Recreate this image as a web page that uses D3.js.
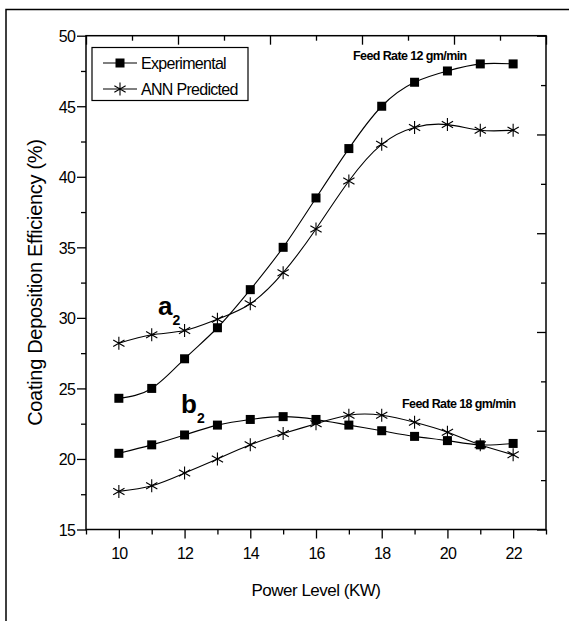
<!DOCTYPE html>
<html><head><meta charset="utf-8">
<script src="https://cdn.jsdelivr.net/npm/d3@7"></script>
<style>
html,body{margin:0;padding:0;background:#fff;}
svg{display:block;font-family:"Liberation Sans",Arial,sans-serif;}
</style></head><body>
<svg id="chart" width="569" height="621"></svg>
<script>
const powerLevels = [10,11,12,13,14,15,16,17,18,19,20,21,22];
const expA2 = [24.3,25.0,27.1,29.3,32.0,35.0,38.5,42.0,45.0,46.7,47.5,48.0,48.0];
const annA2 = [28.2,28.8,29.1,29.9,31.0,33.2,36.3,39.7,42.3,43.5,43.7,43.3,43.3];
const expB2 = [20.4,21.0,21.7,22.4,22.8,23.0,22.8,22.4,22.0,21.6,21.3,21.0,21.1];
const annB2 = [17.7,18.1,19.0,20.0,21.0,21.8,22.5,23.1,23.1,22.6,21.9,21.0,20.3];
const xTickLabels = [10,12,14,16,18,20,22];
const yTickLabels = [15,20,25,30,35,40,45,50];
const legendLabels = ["Experimental","ANN Predicted"];
const annotations = ["Feed Rate 12 gm/min","Feed Rate 18 gm/min"];

const svg = d3.select("#chart");
const L = 86, R = 546, T = 35.7, B = 529.5;
const x = d3.scaleLinear().domain([9,23]).range([L,R]);
const y = d3.scaleLinear().domain([15,50]).range([B,T]);

// outer frame (left & top visible)
svg.append("rect").attr("x",6).attr("y",9.5).attr("width",640).attr("height",700)
  .attr("fill","none").attr("stroke","#000").attr("stroke-width",1.5);

// axes box
const axW = 1.5;
svg.append("rect").attr("x",L).attr("y",T).attr("width",R-L).attr("height",B-T)
  .attr("fill","none").attr("stroke","#000").attr("stroke-width",axW);

// bottom axis
const xAxis = d3.axisBottom(x).tickValues(d3.range(9,24,1))
  .tickSize(0).tickFormat(d=> xTickLabels.includes(d)? d : "");
const gx = svg.append("g").attr("transform",`translate(0,${B})`).call(xAxis);
gx.select(".domain").remove();
gx.selectAll(".tick line").remove();
gx.selectAll(".tick").append("line").attr("y1",0)
  .attr("y2",d=> d%2===0?9:5).attr("stroke","#000").attr("stroke-width",1.3);
gx.selectAll(".tick text").attr("y",29).attr("dy",0).attr("fill","#000")
  .style("font-size","16px").style("letter-spacing","-0.8px").attr("font-family",null);

// left axis
const yAxis = d3.axisLeft(y).tickValues(d3.range(15,50.01,2.5))
  .tickSize(0).tickFormat(d=> yTickLabels.includes(d)? d : "");
const gy = svg.append("g").attr("transform",`translate(${L},0)`).call(yAxis);
gy.select(".domain").remove();
gy.selectAll(".tick line").remove();
gy.selectAll(".tick").append("line").attr("x1",0)
  .attr("x2",d=> d%5===0?-9:-5).attr("stroke","#000").attr("stroke-width",1.3);
gy.selectAll(".tick text").attr("x",-11).attr("dy","0.36em").attr("fill","#000")
  .style("font-size","16px").style("letter-spacing","-0.8px").attr("font-family",null);

// top axis (10 equal divisions, inward)
const topS = d3.scaleLinear().domain([0,10]).range([L,R]);
const gt = svg.append("g").attr("transform",`translate(0,${T})`)
  .call(d3.axisTop(topS).ticks(10).tickSize(0).tickFormat(""));
gt.select(".domain").remove();
gt.selectAll(".tick").append("line").attr("y1",0).attr("y2",d=> d%2===0?9:5)
  .attr("stroke","#000").attr("stroke-width",1.3);
// right axis (10 equal divisions, inward)
const rightS = d3.scaleLinear().domain([0,10]).range([B,T]);
const gr = svg.append("g").attr("transform",`translate(${R},0)`)
  .call(d3.axisRight(rightS).ticks(10).tickSize(0).tickFormat(""));
gr.select(".domain").remove();
gr.selectAll(".tick").append("line").attr("x1",0).attr("x2",d=> d%2===0?-9:-5)
  .attr("stroke","#000").attr("stroke-width",1.3);

// series
const line = d3.line().x((d,i)=>x(powerLevels[i])).y(d=>y(d)).curve(d3.curveNatural);
const series = [
  {v:expA2,m:"sq"},{v:annA2,m:"st"},{v:expB2,m:"sq"},{v:annB2,m:"st"}
];
const starPath = (s)=>{
  const r=s/2, dx=r*Math.cos(Math.PI/6), dy=r*Math.sin(Math.PI/6);
  return `M0,${-r}L0,${r}M${-dx},${-dy}L${dx},${dy}M${-dx},${dy}L${dx},${-dy}`;
};
series.forEach(s=>{
  svg.append("path").datum(s.v).attr("d",line).attr("fill","none")
    .attr("stroke","#000").attr("stroke-width",1.1);
});
series.forEach(s=>{
  const g = svg.append("g");
  s.v.forEach((v,i)=>{
    const cx = x(powerLevels[i]), cy = y(v);
    if(s.m==="sq"){
      g.append("rect").attr("x",cx-4.5).attr("y",cy-4.5).attr("width",9).attr("height",9).attr("fill","#000");
    } else {
      g.append("path").attr("transform",`translate(${cx},${cy})`).attr("d",starPath(13))
        .attr("stroke","#000").attr("stroke-width",1.1).attr("fill","none");
    }
  });
});

// legend
svg.append("rect").attr("x",92).attr("y",47.5).attr("width",156).attr("height",53)
  .attr("fill","#fff").attr("stroke","#000").attr("stroke-width",1.2);
const legY=[63,89];
legendLabels.forEach((t,i)=>{
  svg.append("line").attr("x1",103).attr("x2",137).attr("y1",legY[i]).attr("y2",legY[i])
    .attr("stroke","#000").attr("stroke-width",1.1);
  if(i===0){
    svg.append("rect").attr("x",115.5).attr("y",legY[i]-4.5).attr("width",9).attr("height",9).attr("fill","#000");
  } else {
    svg.append("path").attr("transform",`translate(120,${legY[i]})`).attr("d",starPath(13))
      .attr("stroke","#000").attr("stroke-width",1.1).attr("fill","none");
  }
  svg.append("text").attr("x",141).attr("y",legY[i]).attr("dy","0.36em")
    .style("font-size","16px").style("letter-spacing","-0.7px").text(t);
});

// annotations
svg.append("text").attr("x",353).attr("y",59.5).style("font-size","12.5px")
  .style("font-weight","bold").style("letter-spacing","-0.6px").text(annotations[0]);
svg.append("text").attr("x",402).attr("y",407.5).style("font-size","12.5px")
  .style("font-weight","bold").style("letter-spacing","-0.6px").text(annotations[1]);

// a2, b2 labels (single text with subscript tspan)
function subLabel(px,py,main){
  const t = svg.append("text").attr("x",px).attr("y",py).style("font-weight","bold");
  t.append("tspan").style("font-size","26px").text(main);
  t.append("tspan").attr("dx",0).attr("dy",10).style("font-size","14px").text("2");
}
subLabel(158,315,"a");
subLabel(181,413,"b");

// axis titles
svg.append("text").attr("x",(L+R)/2).attr("y",596).attr("text-anchor","middle")
  .style("font-size","17px").style("letter-spacing","-0.5px").text("Power Level (KW)");
svg.append("text").attr("transform",`translate(42,${(T+B)/2}) rotate(-90)`).attr("text-anchor","middle")
  .style("font-size","20px").style("letter-spacing","-0.3px").text("Coating Deposition Efficiency (%)");
</script>
</body></html>
